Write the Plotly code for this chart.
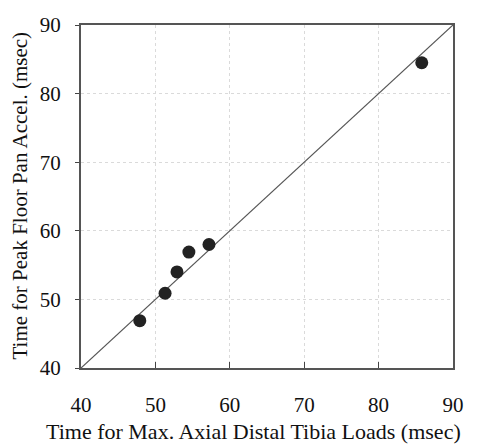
import plotly.graph_objects as go

x_vals = [47.9, 51.3, 52.9, 54.5, 57.2, 85.8]
y_vals = [46.9, 50.9, 54.0, 56.9, 58.0, 84.5]
line_x = [40, 90]
line_y = [40, 90]
ticks = [40, 50, 60, 70, 80, 90]
x_title = "Time for Max. Axial Distal Tibia Loads (msec)"
y_title = "Time for Peak Floor Pan Accel. (msec)"

fig = go.Figure()
fig.add_trace(go.Scatter(x=line_x, y=line_y, mode="lines",
                         line=dict(color="#555555", width=1.2), showlegend=False))
fig.add_trace(go.Scatter(x=x_vals, y=y_vals, mode="markers",
                         marker=dict(color="#222222", size=13, line=dict(width=0)),
                         showlegend=False))

font = dict(family="Liberation Serif, Times New Roman, serif", color="#111111")
fig.update_layout(
    width=483, height=446,
    margin=dict(l=81, r=30, t=25, b=78),
    paper_bgcolor="white", plot_bgcolor="white",
    font=font,
    xaxis=dict(range=[40, 90], tickvals=ticks, ticks="inside", ticklen=6,
               tickcolor="#444", showline=True, linecolor="#555", linewidth=2,
               mirror=True, showgrid=True, gridcolor="#dadada", griddash="dot",
               gridwidth=1, zeroline=False, tickfont=dict(size=21, **font),
               ticklabelstandoff=17),
    yaxis=dict(range=[40, 90], tickvals=ticks, ticks="outside", ticklen=4,
               tickcolor="#444", showline=True, linecolor="#555", linewidth=2,
               mirror=True, showgrid=True, gridcolor="#dadada", griddash="dot",
               gridwidth=1, zeroline=False, tickfont=dict(size=21, **font),
               ticklabelstandoff=10),
    annotations=[
        dict(text=x_title, xref="paper", yref="paper", x=0.5 - 14 / 372,
             y=-(431 - 368) / 343, xanchor="center", yanchor="middle",
             showarrow=False, font=dict(size=22, **font)),
        dict(text=y_title, xref="paper", yref="paper", x=-(81 - 20) / 372,
             y=0.503, xanchor="center", yanchor="middle", showarrow=False,
             textangle=-90, font=dict(size=21, **font)),
    ],
)
fig.write_html("out.html")
